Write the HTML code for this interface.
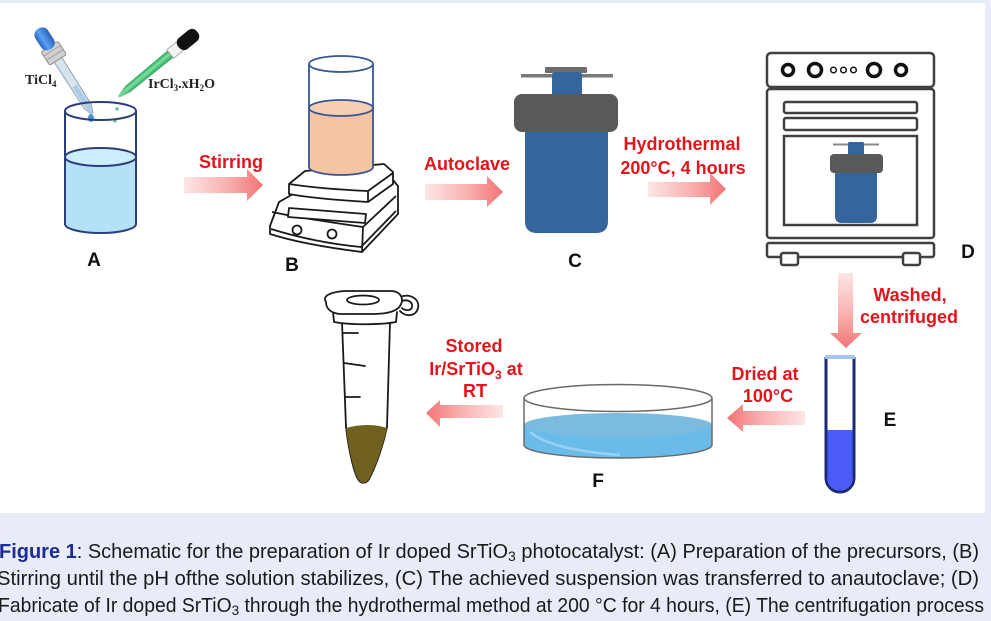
<!DOCTYPE html>
<html><head><meta charset="utf-8"><style>
html,body{margin:0;padding:0;background:#e8ecf8;}
svg{display:block;}
</style></head><body>
<svg width="991" height="621" viewBox="0 0 991 621" xmlns="http://www.w3.org/2000/svg">
<defs>
<linearGradient id="gR" x1="0" y1="0" x2="1" y2="0"><stop offset="0" stop-color="#fde6e6"/><stop offset="0.55" stop-color="#f9b0b0"/><stop offset="1" stop-color="#f37474"/></linearGradient>
<linearGradient id="gL" x1="1" y1="0" x2="0" y2="0"><stop offset="0" stop-color="#fde6e6"/><stop offset="0.55" stop-color="#f9b0b0"/><stop offset="1" stop-color="#f37474"/></linearGradient>
<linearGradient id="gD" x1="0" y1="0" x2="0" y2="1"><stop offset="0" stop-color="#fde6e6"/><stop offset="0.55" stop-color="#f9b0b0"/><stop offset="1" stop-color="#f37474"/></linearGradient>
<linearGradient id="gBulb" x1="0" y1="0" x2="1" y2="0"><stop offset="0" stop-color="#2a62c0"/><stop offset="0.4" stop-color="#5aa2ee"/><stop offset="1" stop-color="#2a5fb8"/></linearGradient>
<linearGradient id="gGreen" x1="0" y1="0" x2="1" y2="0"><stop offset="0" stop-color="#2aa35a"/><stop offset="0.45" stop-color="#7ee0a0"/><stop offset="1" stop-color="#28a058"/></linearGradient>
</defs>
<rect x="0" y="0" width="991" height="621" fill="#e8ecf8"/>
<rect x="0" y="3" width="985" height="510" fill="#ffffff"/>

<!-- TiCl4 dropper -->
<g transform="translate(92,113) rotate(-32.6) translate(0,-100)">
  <path d="M-4.5,36 L4.5,36 L4,92 L1.2,100 L-1.2,100 L-4,92 Z" fill="#d6e4ee" stroke="#8fa3b3" stroke-width="1"/>
  <path d="M-2.5,68 L2.5,68 L2.5,92 L0.8,99 L-0.8,99 L-2.5,92 Z" fill="#a9cde8"/>
  <rect x="-10" y="21" width="20" height="16" rx="2" fill="#d0d0d0" stroke="#8a8a8a" stroke-width="1"/>
  <line x1="-9.5" y1="26" x2="9.5" y2="26" stroke="#9a9a9a" stroke-width="0.8"/>
  <line x1="-9.5" y1="31" x2="9.5" y2="31" stroke="#9a9a9a" stroke-width="0.8"/>
  <rect x="-7.5" y="0" width="15" height="24" rx="7" fill="url(#gBulb)"/>
</g>
<ellipse cx="91" cy="118" rx="3" ry="4" fill="#4a95d6"/>

<!-- green dropper -->
<g transform="translate(117,98) rotate(50.5) translate(0,-104)">
  <path d="M-4.5,34 L4.5,34 L4,90 L1,102 L-1,102 L-4,90 Z" fill="url(#gGreen)"/>
  <rect x="-5.5" y="22" width="11" height="13" fill="#f2f2f2" stroke="#a0a0a0" stroke-width="0.8"/>
  <rect x="-7" y="0" width="14" height="24" rx="6" fill="#111"/>
</g>
<circle cx="117" cy="109" r="1.6" fill="#4cc08a"/>
<circle cx="115" cy="121" r="1.6" fill="#4cc08a"/>

<text x="25" y="84" font-family="Liberation Serif, serif" font-weight="bold" font-size="14" fill="#222">TiCl<tspan font-size="9" dy="3">4</tspan></text>
<text x="148" y="88" font-family="Liberation Serif, serif" font-weight="bold" font-size="14" fill="#222">IrCl<tspan font-size="9" dy="3">3</tspan><tspan dy="-3">.xH</tspan><tspan font-size="9" dy="3">2</tspan><tspan dy="-3">O</tspan></text>

<!-- Beaker A -->
<g stroke="#2b3d7a" stroke-width="2">
  <path d="M65,157 L65,224 A35.5,9 0 0 0 136,224 L136,157 Z" fill="#b5e1f8" stroke="none"/>
  <ellipse cx="100.5" cy="157" rx="35.5" ry="9" fill="#cdedfc"/>
  <line x1="65" y1="111" x2="65" y2="224"/>
  <line x1="136" y1="111" x2="136" y2="224"/>
  <path d="M65,224 A35.5,9 0 0 0 136,224" fill="none"/>
  <ellipse cx="100.5" cy="111" rx="35.5" ry="9" fill="none"/>
</g>

<!-- Arrows -->
<polygon points="184,177 247,177 247,169 263,185 247,201 247,193 184,193" fill="url(#gR)"/>
<polygon points="425,184 487,184 487,176 503,192 487,207 487,200 425,200" fill="url(#gR)"/>
<polygon points="648,182 710,182 710,173 726,189 710,205 710,197 648,197" fill="url(#gR)"/>
<polygon points="838,273 853,273 853,333 862,333 846,348 830,333 838,333" fill="url(#gD)"/>
<polygon points="805,411 743,411 743,404 727,418 743,432 743,425 805,425" fill="url(#gL)"/>
<polygon points="503,405 440,405 440,400 426,413 440,427 440,418 503,418" fill="url(#gL)"/>

<!-- Red labels -->
<g font-family="Liberation Sans, Arial, sans-serif" font-weight="bold" font-size="18" fill="#e3141b" text-anchor="middle">
  <text x="231" y="168">Stirring</text>
  <text x="467" y="170">Autoclave</text>
  <text x="682" y="150">Hydrothermal</text>
  <text x="683" y="174">200°C, 4 hours</text>
  <text x="910" y="301">Washed,</text>
  <text x="909" y="323">centrifuged</text>
  <text x="765" y="380">Dried at</text>
  <text x="768" y="402">100°C</text>
  <text x="474" y="352">Stored</text>
  <text x="476" y="375">Ir/SrTiO<tspan font-size="12" dy="4">3</tspan><tspan dy="-4"> at</tspan></text>
  <text x="475" y="397">RT</text>
</g>

<!-- Black labels -->
<g font-family="Liberation Sans, Arial, sans-serif" font-weight="bold" font-size="19" fill="#111" text-anchor="middle">
  <text x="94" y="266">A</text>
  <text x="292" y="271">B</text>
  <text x="575" y="267">C</text>
  <text x="968" y="258">D</text>
  <text x="890" y="426">E</text>
  <text x="598" y="487">F</text>
</g>

<!-- Hotplate -->
<g stroke="#1a1a1a" stroke-width="1.8" stroke-linejoin="round" fill="#fff">
  <path d="M279,202 L300,190 L393,180 L398,186 L398,214 L362,252 C330,248 295,242 270,234 L270,226 Z"/>
  <path d="M272,212 C300,218 335,223 363,227 L396,196" fill="none"/>
  <path d="M271,229 C300,238 330,244 361,247 L396,211" fill="none"/>
  <path d="M363,227 L362,252" fill="none"/>
  <path d="M289,208 L366,214 L365,223 L288,217 Z"/>
  <circle cx="297" cy="230" r="4.5"/>
  <circle cx="332" cy="234" r="4.5"/>
  <path d="M289,184 L305,171 L384,164 L393,172 L393,184 L368,202 C335,200 305,197 289,194 Z"/>
  <path d="M289,184 C315,188 345,190 368,191 L393,173" fill="none"/>
  <path d="M368,191 L368,202" fill="none"/>
</g>

<!-- Beaker B -->
<g stroke="#3a5594" stroke-width="1.8">
  <path d="M309,108 L309,167 A32,8 0 0 0 373,167 L373,108 Z" fill="#f5c4a4" stroke="none"/>
  <ellipse cx="341" cy="108" rx="32" ry="8" fill="#f7cfb3"/>
  <line x1="309" y1="64" x2="309" y2="167"/>
  <line x1="373" y1="64" x2="373" y2="167"/>
  <path d="M309,167 A32,8 0 0 0 373,167" fill="none"/>
  <ellipse cx="341" cy="64" rx="32" ry="8" fill="none"/>
</g>

<!-- Autoclave C -->
<path d="M525,125 L608,125 L608,221 Q608,233 596,233 L537,233 Q525,233 525,221 Z" fill="#34659b"/>
<rect x="521" y="74" width="92" height="3.5" fill="#7a7a7a"/>
<rect x="545" y="67" width="42" height="6" rx="1" fill="#6d6d6d"/>
<rect x="552" y="72" width="30" height="32" rx="3" fill="#34659b"/>
<rect x="514" y="94" width="104" height="38" rx="8" fill="#58595b"/>

<!-- Oven D -->
<g stroke="#404040" stroke-width="2.5" fill="none">
  <rect x="767" y="53" width="167" height="34" rx="4"/>
  <rect x="767" y="89" width="167" height="149" rx="3"/>
  <rect x="784" y="102" width="133" height="11" rx="2"/>
  <rect x="784" y="118" width="133" height="12" rx="2"/>
  <rect x="784" y="136" width="133" height="89"/>
  <rect x="767" y="243" width="167" height="14" rx="2"/>
  <rect x="781" y="253" width="17" height="12" rx="2" fill="#fff"/>
  <rect x="903" y="253" width="17" height="12" rx="2" fill="#fff"/>
</g>
<g stroke="#111" fill="none">
  <circle cx="788" cy="70" r="5.5" stroke-width="3.5"/>
  <circle cx="815" cy="70" r="6.5" stroke-width="3.5"/>
  <circle cx="833.5" cy="70" r="2.8" stroke-width="1.5"/>
  <circle cx="843.5" cy="70" r="2.8" stroke-width="1.5"/>
  <circle cx="853.5" cy="70" r="2.8" stroke-width="1.5"/>
  <circle cx="874" cy="70" r="6.5" stroke-width="3.5"/>
  <circle cx="901" cy="70" r="5.5" stroke-width="3.5"/>
</g>
<!-- inner autoclave -->
<path d="M835,168 L877,168 L877,216 Q877,223 870,223 L842,223 Q835,223 835,216 Z" fill="#34659b"/>
<line x1="833" y1="144.5" x2="879" y2="144.5" stroke="#8a8a8a" stroke-width="2"/>
<rect x="848" y="142" width="16" height="16" rx="1.5" fill="#34659b"/>
<rect x="830" y="154" width="53" height="19" rx="4" fill="#58595b"/>

<!-- Test tube E -->
<path d="M827.5,430 L852.5,430 L852.5,478 A12.5,12.5 0 0 1 827.5,478 Z" fill="#4b5bf7"/>
<path d="M826,357 L826,478 A14,14 0 0 0 854,478 L854,357" fill="none" stroke="#1c2a7c" stroke-width="3"/>
<rect x="825" y="355" width="30" height="4" rx="1" fill="#a6c4ee"/>

<!-- Petri dish F -->
<path d="M524,425 L524,445 A94,13 0 0 0 712,445 L712,425 Z" fill="#6bbbea"/>
<ellipse cx="618" cy="425" rx="94" ry="12" fill="#7bbbe0"/>
<path d="M530,432 C545,445 580,452 620,455" fill="none" stroke="#a6d7f3" stroke-width="2.5" opacity="0.8"/>
<g stroke="#6a6a6a" stroke-width="1.5" fill="none">
  <ellipse cx="618" cy="398" rx="94" ry="13.5"/>
  <line x1="524" y1="398" x2="524" y2="445"/>
  <line x1="712" y1="398" x2="712" y2="445"/>
  <path d="M524,445 A94,13 0 0 0 712,445"/>
</g>

<!-- Eppendorf tube -->
<g stroke="#1a1a1a" stroke-width="1.8" stroke-linejoin="round" stroke-linecap="round">
  <path d="M342,322 L346,427 C349,452 354,472 358,479 C361,484 366,484 369,479 C374,470 382,450 387,427 L390,322" fill="#fff"/>
  <path d="M346,428 C360,424 375,424 387,428 C382,450 374,470 369,479 C366,484 361,484 358,479 C354,472 349,452 346,428 Z" fill="#6f6020" stroke="none"/>
  <path d="M333,312 L334,322 C350,325 380,325 396,322 L397,312" fill="#fff"/>
  <path d="M400,297 C410,293 420,299 418,308 C416,317 405,317 400,311" fill="none"/>
  <path d="M402,301 C408,299 413,302 412,307 C411,311 405,311 402,308" fill="none"/>
  <path d="M326,302 C322,296 330,292 345,291 L392,291 C402,292 404,300 400,306 C396,312 385,314 372,314 L340,314 C330,313 326,308 326,302 Z" fill="#fff"/>
  <ellipse cx="363" cy="300" rx="16" ry="4.5" fill="none"/>
  <line x1="343" y1="333" x2="358" y2="333"/>
  <line x1="344" y1="363" x2="365" y2="366"/>
  <line x1="345" y1="397" x2="360" y2="397"/>
</g>

<!-- Caption -->
<g font-family="Liberation Sans, Arial, sans-serif" font-size="20" fill="#1a1a1a">
  <text x="-1" y="558" textLength="980" lengthAdjust="spacingAndGlyphs"><tspan font-weight="bold" fill="#1b2c96">Figure 1</tspan>: Schematic for the preparation of Ir doped SrTiO<tspan font-size="14" dy="3">3</tspan><tspan dy="-3"> photocatalyst: (A) Preparation of the precursors, (B)</tspan></text>
  <text x="-3" y="585" textLength="982" lengthAdjust="spacingAndGlyphs">Stirring until the pH ofthe solution stabilizes, (C) The achieved suspension was transferred to anautoclave; (D)</text>
  <text x="-2" y="612" textLength="986" lengthAdjust="spacingAndGlyphs">Fabricate of Ir doped SrTiO<tspan font-size="14" dy="3">3</tspan><tspan dy="-3"> through the hydrothermal method at 200 °C for 4 hours, (E) The centrifugation process</tspan></text>
</g>
</svg>
</body></html>
